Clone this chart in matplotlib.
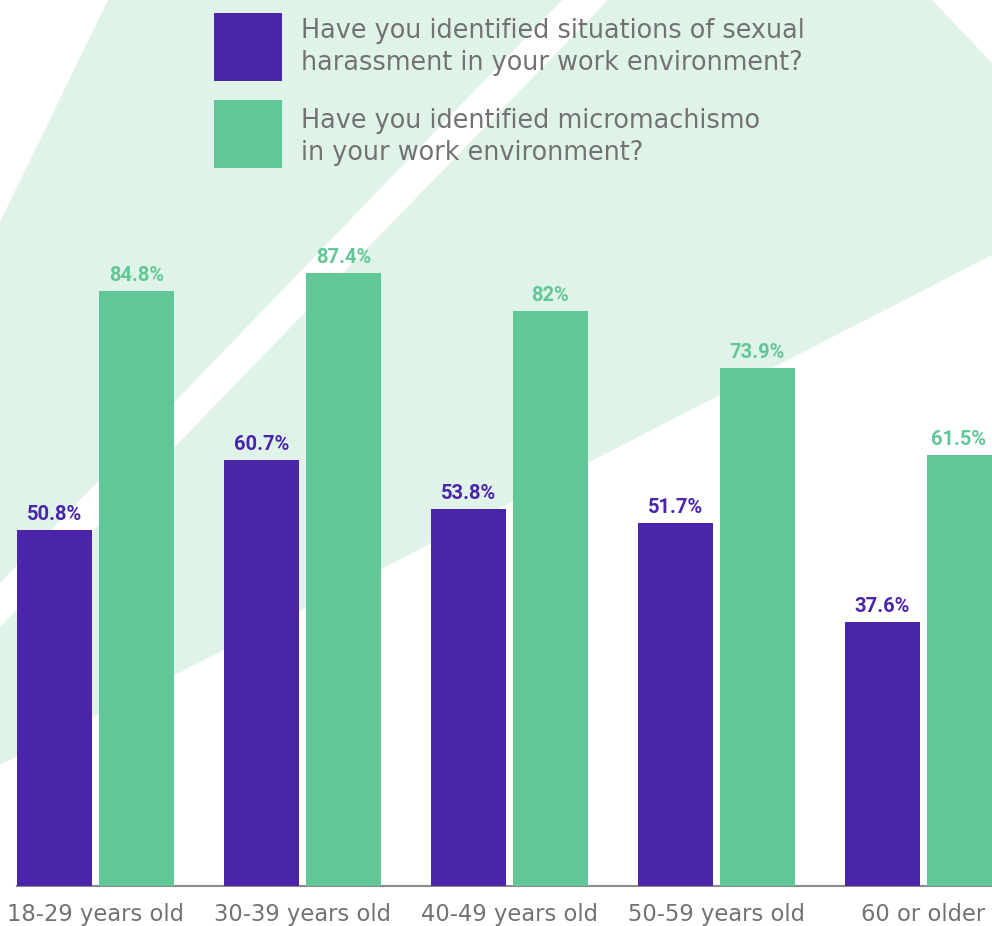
import matplotlib
matplotlib.use("Agg")
import matplotlib.pyplot as plt
from matplotlib.patches import Polygon, Rectangle
import numpy as np

# ---- data ----
categories = ["18-29 years old", "30-39 years old", "40-49 years old", "50-59 years old", "60 or older"]
harassment = [50.8, 60.7, 53.8, 51.7, 37.6]
micromachismo = [84.8, 87.4, 82.0, 73.9, 61.5]
harassment_labels = ["50.8%", "60.7%", "53.8%", "51.7%", "37.6%"]
micromachismo_labels = ["84.8%", "87.4%", "82%", "73.9%", "61.5%"]
legend_labels = ["Have you identified situations of sexual\nharassment in your work environment?",
                 "Have you identified micromachismo\nin your work environment?"]

PURPLE = "#4a25aa"
GREEN = "#62c796"
BG = "#e0f3e9"
GRAY = "#727272"

W, H = 992, 926
fig = plt.figure(figsize=(W / 100, H / 100), dpi=100)

def fx(px):
    return px / W

def fy(py):
    return 1 - py / H

# decorative background shape (figure coords)
outer = [(0, 222), (108, 0), (932, 0), (992, 63), (992, 255), (0, 765)]
stripe = [(0, 583), (562, 0), (608, 0), (0, 627)]
fig.patches.append(Polygon([(fx(x), fy(y)) for x, y in outer], closed=True,
                           transform=fig.transFigure, facecolor=BG, edgecolor="none", zorder=-3))
fig.patches.append(Polygon([(fx(x), fy(y)) for x, y in stripe], closed=True,
                           transform=fig.transFigure, facecolor="white", edgecolor="none", zorder=-2))

# axes: left at px 17, bottom baseline at px 886
ax = fig.add_axes([17 / W, 40 / H, 1 - 17 / W, 886 / H])
ax.patch.set_alpha(0)

x = np.arange(len(categories))
bw = 75 / 207
off = 41 / 207
ax.bar(x - off, harassment, width=bw, color=PURPLE, zorder=3)
ax.bar(x + off, micromachismo, width=bw, color=GREEN, zorder=3)

ax.set_xlim((17 - 95.5) / 207, (992 - 95.5) / 207)
ax.set_ylim(0, 886 / 7.015)

lab_font = dict(family=["Roboto", "DejaVu Sans"], fontweight="bold", fontsize=14.5)
n = len(categories)
for i in range(n):
    ax.annotate(harassment_labels[i], (x[i] - off, harassment[i]), xytext=(0, 6),
                textcoords="offset pixels", ha="center", va="bottom", color=PURPLE, **lab_font)
    dx = -6 if i == n - 1 else 0
    ax.annotate(micromachismo_labels[i], (x[i] + off, micromachismo[i]), xytext=(dx, 6),
                textcoords="offset pixels", ha="center", va="bottom", color=GREEN, **lab_font)

for s in ["top", "right", "left"]:
    ax.spines[s].set_visible(False)
ax.spines["bottom"].set_color("#8a8a8a")
ax.spines["bottom"].set_linewidth(1.5)
ax.set_yticks([])
ax.set_xticks(x)
ax.set_xticklabels(categories, fontsize=16.3, color=GRAY, family="DejaVu Sans")
ax.tick_params(axis="x", length=0, pad=12)

# legend (manual, figure coords)
for (col, top, text, dy) in [(PURPLE, 13, legend_labels[0], 34), (GREEN, 100, legend_labels[1], 37)]:
    fig.patches.append(Rectangle((fx(214), fy(top + 68)), 68 / W, 68 / H,
                                 transform=fig.transFigure, facecolor=col, edgecolor="none", zorder=2))
    fig.text(fx(301), fy(top + dy), text, ha="left", va="center", fontsize=18.4,
             color=GRAY, family="DejaVu Sans", linespacing=1.3)

fig.savefig("out.png", dpi=100)
